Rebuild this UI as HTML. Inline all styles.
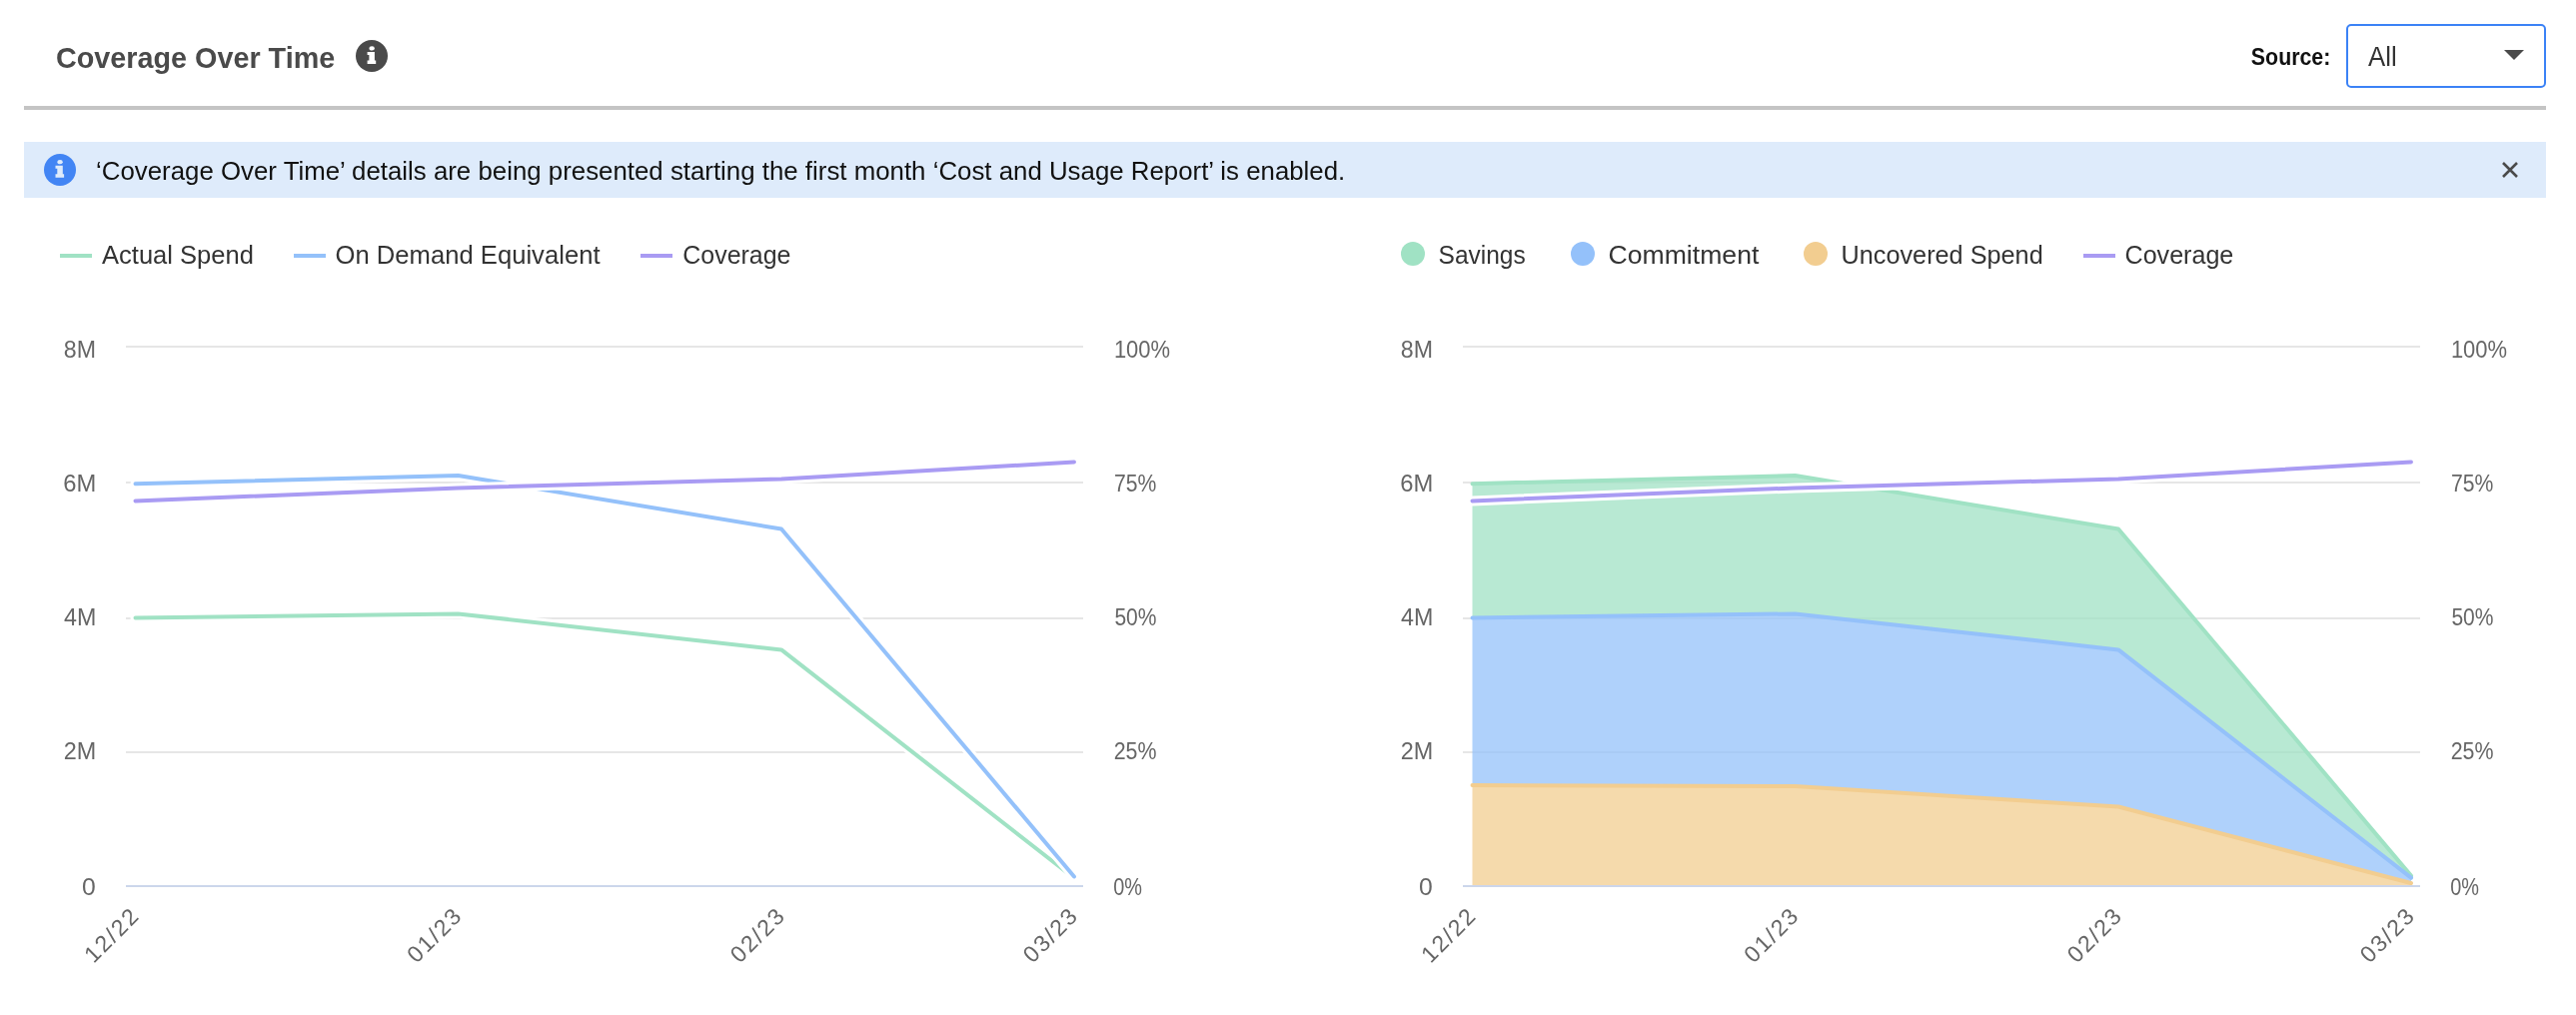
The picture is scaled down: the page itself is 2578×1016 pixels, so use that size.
<!DOCTYPE html>
<html><head><meta charset="utf-8"><title>Coverage Over Time</title>
<style>
html,body{margin:0;padding:0;background:#fff;width:2578px;height:1016px;overflow:hidden;}
svg{display:block;font-family:"Liberation Sans", sans-serif;will-change:transform;}
</style></head><body>
<svg width="2578" height="1016" viewBox="0 0 2578 1016">
<rect width="2578" height="1016" fill="#fff"/>
<text id="title" x="56.04" y="68" font-size="30" fill="#4a4a4a" font-weight="bold" text-anchor="start" textLength="279.17" lengthAdjust="spacingAndGlyphs">Coverage Over Time</text>
<circle cx="372" cy="56" r="16" fill="#4a4a4a"/>
<g fill="#fff"><ellipse cx="372.20" cy="48.40" rx="2.7" ry="2.1"/><path d="M367.60 52.00 H374.90 V60.50 H376.20 V63.90 H367.60 V60.50 H369.40 V55.00 H367.60 Z"/></g>
<text id="source" x="2252.87" y="65" font-size="23" fill="#111111" font-weight="bold" text-anchor="start" textLength="79.45" lengthAdjust="spacingAndGlyphs">Source:</text>
<rect x="2349" y="25" width="198" height="62" rx="4" fill="#fff" stroke="#3b82f6" stroke-width="2"/>
<text id="all" x="2370.00" y="66" font-size="28" fill="#333333" font-weight="normal" text-anchor="start" textLength="28.63" lengthAdjust="spacingAndGlyphs">All</text>
<path d="M2506 50 h20 l-10 10 z" fill="#4a4a4a"/>
<rect x="24" y="106" width="2524" height="4" fill="#c4c4c4"/>
<rect x="24" y="142" width="2524" height="56" fill="#deebfb"/>
<circle cx="60" cy="170" r="16" fill="#4285f4"/>
<g fill="#deebfb"><ellipse cx="60.10" cy="162.20" rx="2.7" ry="2.1"/><path d="M55.50 165.80 H62.80 V174.30 H64.10 V177.70 H55.50 V174.30 H57.30 V168.80 H55.50 Z"/></g>
<text id="banner" x="96.01" y="180" font-size="26" fill="#111111" font-weight="normal" text-anchor="start" textLength="1250.28" lengthAdjust="spacingAndGlyphs">‘Coverage Over Time’ details are being presented starting the first month ‘Cost and Usage Report’ is enabled.</text>
<path d="M2505 163 L2519 177 M2519 163 L2505 177" stroke="#4a4a4a" stroke-width="2.6"/>
<rect x="60" y="254" width="32" height="4" fill="#a0e2c4"/>
<text id="leg_actual" x="102.00" y="264" font-size="26" fill="#333333" font-weight="normal" text-anchor="start" textLength="151.84" lengthAdjust="spacingAndGlyphs">Actual Spend</text>
<rect x="294" y="254" width="32" height="4" fill="#94c1fa"/>
<text id="leg_ondemand" x="335.51" y="264" font-size="26" fill="#333333" font-weight="normal" text-anchor="start" textLength="265.02" lengthAdjust="spacingAndGlyphs">On Demand Equivalent</text>
<rect x="641" y="254" width="32" height="4" fill="#a99bf3"/>
<text id="leg_cov1" x="683.34" y="264" font-size="26" fill="#333333" font-weight="normal" text-anchor="start" textLength="108.16" lengthAdjust="spacingAndGlyphs">Coverage</text>
<circle cx="1414" cy="254" r="12" fill="#a0e2c4"/>
<text id="leg_savings" x="1439.56" y="264" font-size="26" fill="#333333" font-weight="normal" text-anchor="start" textLength="87.21" lengthAdjust="spacingAndGlyphs">Savings</text>
<circle cx="1584" cy="254" r="12" fill="#94c1fa"/>
<text id="leg_commit" x="1609.48" y="264" font-size="26" fill="#333333" font-weight="normal" text-anchor="start" textLength="150.87" lengthAdjust="spacingAndGlyphs">Commitment</text>
<circle cx="1817" cy="254" r="12" fill="#f2cd90"/>
<text id="leg_uncov" x="1842.56" y="264" font-size="26" fill="#333333" font-weight="normal" text-anchor="start" textLength="202.15" lengthAdjust="spacingAndGlyphs">Uncovered Spend</text>
<rect x="2085" y="254" width="32" height="4" fill="#a99bf3"/>
<text id="leg_cov2" x="2126.54" y="264" font-size="26" fill="#333333" font-weight="normal" text-anchor="start" textLength="108.77" lengthAdjust="spacingAndGlyphs">Coverage</text>
<rect x="126" y="346" width="958" height="2" fill="#e6e6e6"/><rect x="126" y="482" width="958" height="2" fill="#e6e6e6"/><rect x="126" y="618" width="958" height="2" fill="#e6e6e6"/><rect x="126" y="752" width="958" height="2" fill="#e6e6e6"/><text id="yl0_0" x="96.01" y="358" font-size="23" fill="#666666" font-weight="normal" text-anchor="end" textLength="32.17" lengthAdjust="spacingAndGlyphs">8M</text><text id="yr0_0" x="1114.89" y="358" font-size="23" fill="#666666" font-weight="normal" text-anchor="start" textLength="56.20" lengthAdjust="spacingAndGlyphs">100%</text><text id="yl0_1" x="96.37" y="492" font-size="23" fill="#666666" font-weight="normal" text-anchor="end" textLength="33.05" lengthAdjust="spacingAndGlyphs">6M</text><text id="yr0_1" x="1115.08" y="492" font-size="23" fill="#666666" font-weight="normal" text-anchor="start" textLength="42.38" lengthAdjust="spacingAndGlyphs">75%</text><text id="yl0_2" x="96.32" y="626" font-size="23" fill="#666666" font-weight="normal" text-anchor="end" textLength="32.27" lengthAdjust="spacingAndGlyphs">4M</text><text id="yr0_2" x="1115.39" y="626" font-size="23" fill="#666666" font-weight="normal" text-anchor="start" textLength="42.07" lengthAdjust="spacingAndGlyphs">50%</text><text id="yl0_3" x="96.33" y="760" font-size="23" fill="#666666" font-weight="normal" text-anchor="end" textLength="32.50" lengthAdjust="spacingAndGlyphs">2M</text><text id="yr0_3" x="1114.67" y="760" font-size="23" fill="#666666" font-weight="normal" text-anchor="start" textLength="42.80" lengthAdjust="spacingAndGlyphs">25%</text><text id="yl0_4" x="95.87" y="896" font-size="23" fill="#666666" font-weight="normal" text-anchor="end" textLength="13.73" lengthAdjust="spacingAndGlyphs">0</text><text id="yr0_4" x="1114.13" y="896" font-size="23" fill="#666666" font-weight="normal" text-anchor="start" textLength="28.78" lengthAdjust="spacingAndGlyphs">0%</text><text x="0" y="0" font-size="23" fill="#666666" text-anchor="end" textLength="65" lengthAdjust="spacing" transform="translate(139.80,919) rotate(-45)">12/22</text><text x="0" y="0" font-size="23" fill="#666666" text-anchor="end" textLength="65" lengthAdjust="spacing" transform="translate(462.80,919) rotate(-45)">01/23</text><text x="0" y="0" font-size="23" fill="#666666" text-anchor="end" textLength="65" lengthAdjust="spacing" transform="translate(786.30,919) rotate(-45)">02/23</text><text x="0" y="0" font-size="23" fill="#666666" text-anchor="end" textLength="65" lengthAdjust="spacing" transform="translate(1079.30,919) rotate(-45)">03/23</text>
<polyline points="135.5,618.4 458.5,614.4 782.0,650.4 1075.0,879.0" fill="none" stroke="#fff" stroke-width="10" stroke-linejoin="round" stroke-linecap="round"/><polyline points="135.5,618.4 458.5,614.4 782.0,650.4 1075.0,879.0" fill="none" stroke="#a0e2c4" stroke-width="4" stroke-linejoin="round" stroke-linecap="round"/>
<polyline points="135.5,484.2 458.5,476.0 782.0,529.5 1075.0,877.5" fill="none" stroke="#fff" stroke-width="10" stroke-linejoin="round" stroke-linecap="round"/><polyline points="135.5,484.2 458.5,476.0 782.0,529.5 1075.0,877.5" fill="none" stroke="#94c1fa" stroke-width="4" stroke-linejoin="round" stroke-linecap="round"/>
<polyline points="135.5,501.4 458.5,488.4 782.0,479.5 1075.0,462.5" fill="none" stroke="#fff" stroke-width="10" stroke-linejoin="round" stroke-linecap="round"/><polyline points="135.5,501.4 458.5,488.4 782.0,479.5 1075.0,462.5" fill="none" stroke="#a99bf3" stroke-width="4" stroke-linejoin="round" stroke-linecap="round"/>
<rect x="126" y="886.0" width="958" height="2" fill="#ccd6eb"/>
<rect x="1464" y="346" width="958" height="2" fill="#e6e6e6"/><rect x="1464" y="482" width="958" height="2" fill="#e6e6e6"/><rect x="1464" y="618" width="958" height="2" fill="#e6e6e6"/><rect x="1464" y="752" width="958" height="2" fill="#e6e6e6"/><text id="yl1_0" x="1434.01" y="358" font-size="23" fill="#666666" font-weight="normal" text-anchor="end" textLength="32.17" lengthAdjust="spacingAndGlyphs">8M</text><text id="yr1_0" x="2452.89" y="358" font-size="23" fill="#666666" font-weight="normal" text-anchor="start" textLength="56.20" lengthAdjust="spacingAndGlyphs">100%</text><text id="yl1_1" x="1434.37" y="492" font-size="23" fill="#666666" font-weight="normal" text-anchor="end" textLength="33.05" lengthAdjust="spacingAndGlyphs">6M</text><text id="yr1_1" x="2453.08" y="492" font-size="23" fill="#666666" font-weight="normal" text-anchor="start" textLength="42.38" lengthAdjust="spacingAndGlyphs">75%</text><text id="yl1_2" x="1434.32" y="626" font-size="23" fill="#666666" font-weight="normal" text-anchor="end" textLength="32.27" lengthAdjust="spacingAndGlyphs">4M</text><text id="yr1_2" x="2453.39" y="626" font-size="23" fill="#666666" font-weight="normal" text-anchor="start" textLength="42.07" lengthAdjust="spacingAndGlyphs">50%</text><text id="yl1_3" x="1434.33" y="760" font-size="23" fill="#666666" font-weight="normal" text-anchor="end" textLength="32.50" lengthAdjust="spacingAndGlyphs">2M</text><text id="yr1_3" x="2452.67" y="760" font-size="23" fill="#666666" font-weight="normal" text-anchor="start" textLength="42.80" lengthAdjust="spacingAndGlyphs">25%</text><text id="yl1_4" x="1433.87" y="896" font-size="23" fill="#666666" font-weight="normal" text-anchor="end" textLength="13.73" lengthAdjust="spacingAndGlyphs">0</text><text id="yr1_4" x="2452.13" y="896" font-size="23" fill="#666666" font-weight="normal" text-anchor="start" textLength="28.78" lengthAdjust="spacingAndGlyphs">0%</text><text x="0" y="0" font-size="23" fill="#666666" text-anchor="end" textLength="65" lengthAdjust="spacing" transform="translate(1477.80,919) rotate(-45)">12/22</text><text x="0" y="0" font-size="23" fill="#666666" text-anchor="end" textLength="65" lengthAdjust="spacing" transform="translate(1800.80,919) rotate(-45)">01/23</text><text x="0" y="0" font-size="23" fill="#666666" text-anchor="end" textLength="65" lengthAdjust="spacing" transform="translate(2124.30,919) rotate(-45)">02/23</text><text x="0" y="0" font-size="23" fill="#666666" text-anchor="end" textLength="65" lengthAdjust="spacing" transform="translate(2417.30,919) rotate(-45)">03/23</text>
<polygon points="1473.5,484.2 1796.5,476.0 2120.0,529.5 2413.0,876.6 2413.0,878.7 2120.0,650.4 1796.5,614.4 1473.5,618.4" fill="#a0e2c4" fill-opacity="0.75" stroke="none"/><polyline points="1473.5,484.2 1796.5,476.0 2120.0,529.5 2413.0,876.6" fill="none" stroke="#a0e2c4" stroke-width="4" stroke-linejoin="round" stroke-linecap="round"/>
<polygon points="1473.5,618.4 1796.5,614.4 2120.0,650.4 2413.0,878.7 2413.0,884.0 2120.0,807.5 1796.5,787.0 1473.5,786.0" fill="#94c1fa" fill-opacity="0.75" stroke="none"/><polyline points="1473.5,618.4 1796.5,614.4 2120.0,650.4 2413.0,878.7" fill="none" stroke="#94c1fa" stroke-width="4" stroke-linejoin="round" stroke-linecap="round"/>
<polygon points="1473.5,786.0 1796.5,787.0 2120.0,807.5 2413.0,884.0 2413.0,887.0 2120.0,887.0 1796.5,887.0 1473.5,887.0" fill="#f2cd90" fill-opacity="0.75" stroke="none"/><polyline points="1473.5,786.0 1796.5,787.0 2120.0,807.5 2413.0,884.0" fill="none" stroke="#f2cd90" stroke-width="4" stroke-linejoin="round" stroke-linecap="round"/>
<polyline points="1473.5,501.4 1796.5,488.4 2120.0,479.5 2413.0,462.5" fill="none" stroke="#fff" stroke-width="10" stroke-linejoin="round" stroke-linecap="round"/><polyline points="1473.5,501.4 1796.5,488.4 2120.0,479.5 2413.0,462.5" fill="none" stroke="#a99bf3" stroke-width="4" stroke-linejoin="round" stroke-linecap="round"/>
<rect x="1464" y="886.0" width="958" height="2" fill="#ccd6eb"/>
</svg>
</body></html>
